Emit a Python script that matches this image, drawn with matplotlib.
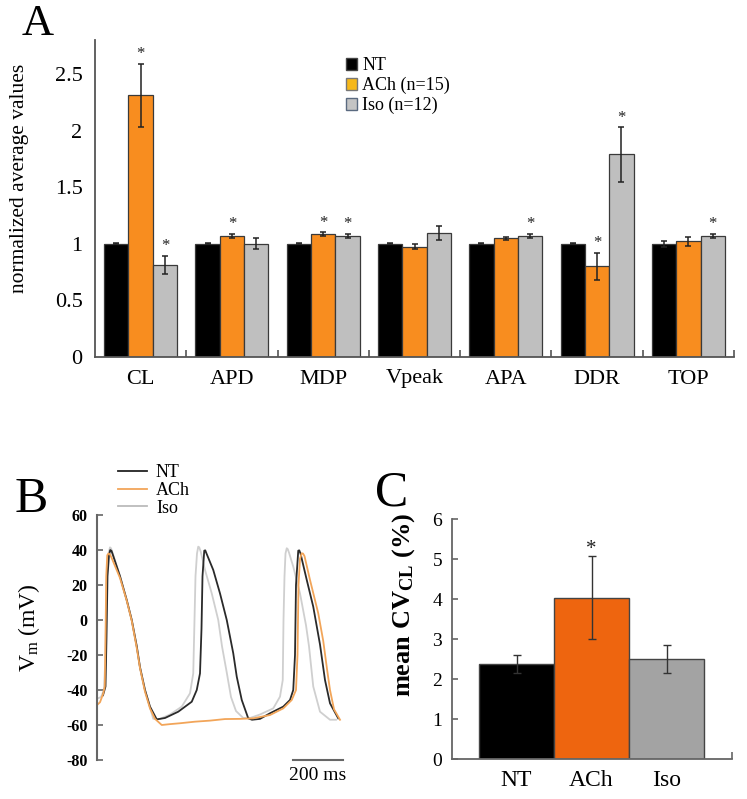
import numpy as np
import matplotlib
matplotlib.use("Agg")
import matplotlib.pyplot as plt
from matplotlib.patches import Patch
from matplotlib.lines import Line2D

plt.rcParams['font.family'] = ['Liberation Serif', 'DejaVu Serif']
plt.rcParams['mathtext.fontset'] = 'stix'
plt.rcParams['mathtext.default'] = 'regular'
plt.rcParams['axes.unicode_minus'] = False

# ---- panel A data: normalized averages ----
categories = ['CL', 'APD', 'MDP', 'Vpeak', 'APA', 'DDR', 'TOP']
nt_mean = [1.0, 1.0, 1.0, 1.0, 1.0, 1.0, 1.0]
nt_err = [0.005, 0.005, 0.003, 0.003, 0.005, 0.005, 0.025]
ach_mean = [2.31, 1.07, 1.085, 0.975, 1.047, 0.80, 1.024]
ach_err = [0.28, 0.02, 0.015, 0.025, 0.015, 0.12, 0.04]
iso_mean = [0.815, 1.0, 1.07, 1.095, 1.07, 1.79, 1.07]
iso_err = [0.08, 0.05, 0.02, 0.06, 0.02, 0.24, 0.02]
ach_sig = [1, 1, 1, 0, 0, 1, 0]
iso_sig = [1, 0, 1, 0, 1, 1, 1]

# ---- panel B data: action potential traces (time ms, Vm mV) ----
nt_t = [24, 34, 38, 42, 48, 53, 58, 64, 92, 119, 139, 159, 172, 192, 212, 239, 272, 325, 379,
        399, 412, 418, 422, 429, 433, 438, 465, 492, 519, 545, 559, 579, 605, 620, 652, 692,
        745, 772, 785, 792, 796, 805, 809, 814, 839, 865, 892, 912, 932, 965]
nt_v = [-43, -38, -10, 25, 37, 40, 39.5, 37, 25, 11.4, 0, -15, -27, -40, -49.5, -56.8, -56, -52.4, -46.7,
        -40, -30.5, -5, 25, 39.6, 39.8, 38, 28.6, 15.2, 0, -19, -32.4, -45.7, -56.2, -57, -56.5, -53.3,
        -49.5, -45.7, -40, -20, 20, 39.6, 39.8, 38, 22.9, 7.6, -14, -34.3, -47.6, -56.2]

ach_t = [0, 12, 25, 31, 34, 37, 41, 46, 52, 60, 92, 119, 139, 159, 172, 192, 212, 232, 259, 292,
         332, 392, 452, 512, 572, 625, 692, 745, 779, 796, 802, 806, 812, 819, 824, 830, 852, 885,
         905, 920, 932, 948, 972]
ach_v = [-48.6, -47, -42, -38, -10, 25, 37, 38, 37.5, 35, 24, 11, -0.5, -16, -27.5, -41, -50.5, -56.5, -60, -59.5,
         -59, -58.1, -57.5, -56.6, -56.5, -56.2, -54.3, -50.5, -45.7, -40, -20, 20, 35, 38.1, 38, 36.5, 22.9, 3.8,
         -12, -28, -40, -51, -57]

iso_t = [0, 16, 28, 34, 38, 44, 52, 56, 62, 92, 119, 139, 159, 172, 192, 212, 225, 252, 292, 339,
         372, 385, 390, 394, 400, 405, 409, 415, 432, 459, 485, 500, 519, 536, 556, 585, 612, 652,
         705, 732, 743, 746, 750, 754, 759, 763, 768, 785, 812, 836, 848, 865, 892, 932, 956]
iso_v = [-45, -44, -40, -20, 20, 37, 41.5, 41, 38.5, 25, 11, 0, -15, -27, -40, -50, -56.5, -56.5, -54, -49.5,
         -41.9, -30.5, 0, 25, 38, 41.9, 41.5, 39, 28.6, 15.2, 0, -15, -30, -44, -52, -56, -56, -54,
         -50.5, -43.8, -34.3, 0, 25, 38, 41, 40.5, 38.5, 30.5, 15.2, -3, -15, -38, -52.4, -57, -57]

# ---- panel C data: mean CV of cycle length ----
cv_groups = ['NT', 'ACh', 'Iso']
cv_mean = [2.37, 4.03, 2.51]
cv_err = [0.22, 1.04, 0.35]
cv_sig = [0, 1, 0]

W, H = 747, 799
fig = plt.figure(figsize=(W / 100, H / 100), dpi=100)


def px_axes(left, top, right, bottom):
    return fig.add_axes([left / W, 1 - bottom / H, (right - left) / W, (bottom - top) / H])


spine_col = '#555555'

# ================= Panel A =================
axA = px_axes(95, 40, 734, 357)
x = np.arange(len(categories)) + 0.5
w = 0.267
series = [(nt_mean, nt_err, '#000000', None),
          (ach_mean, ach_err, '#F88D1F', ach_sig),
          (iso_mean, iso_err, '#BFBFBF', iso_sig)]
for i, (m, e, c, sig) in enumerate(series):
    xs = x + (i - 1) * w
    axA.bar(xs, m, width=w, color=c, edgecolor='#3a3a3a', linewidth=0.9, zorder=2)
    axA.errorbar(xs, m, yerr=e, fmt='none', ecolor='#222222', elinewidth=1.1,
                 capsize=2.5, capthick=1.1, zorder=3)
    if sig is not None:
        for xi, mi, ei, s in zip(xs, m, e, sig):
            if s:
                axA.annotate('*', (xi, mi + ei), xytext=(0, 1), textcoords='offset points',
                             ha='center', va='bottom', fontsize=12, color='#222222')

axA.set_xlim(0, 7)
axA.set_ylim(0, 2.8)
axA.set_yticks([0, 0.5, 1, 1.5, 2, 2.5])
axA.set_yticklabels(['0', '0.5', '1', '1.5', '2', '2.5'])
axA.set_xticks(x)
axA.set_xticklabels(categories)
axA.set_xticks(np.arange(1, 8), minor=True)
axA.tick_params(axis='x', which='major', length=0, pad=9, labelsize=16)
axA.tick_params(axis='x', which='minor', direction='in', length=5, color=spine_col, width=1.2)
axA.tick_params(axis='y', length=0, pad=9, labelsize=16)
axA.set_ylabel('normalized average values', fontsize=15.5)
axA.yaxis.set_label_coords(-0.104, 0.565)
for s in ['top', 'right']:
    axA.spines[s].set_visible(False)
for s in ['left', 'bottom']:
    axA.spines[s].set_color(spine_col)
    axA.spines[s].set_linewidth(1.3)

legA = [Patch(facecolor='#000000', edgecolor='#444444', label='NT'),
        Patch(facecolor='#F6B81A', edgecolor='#777777', label='ACh (n=15)'),
        Patch(facecolor='#C4C4C4', edgecolor='#5a6a80', label='Iso (n=12)')]
axA.legend(handles=legA, loc='upper left', bbox_to_anchor=((339 - 95) / 639, (357 - 50) / 317),
           frameon=False, fontsize=13, handlelength=0.6, handleheight=0.6,
           handletextpad=0.3, labelspacing=0.15, borderaxespad=0)

fig.text(22 / W, 1 - 35 / H, 'A', fontsize=32, ha='left', va='baseline')

# ================= Panel B =================
axB = px_axes(97, 515, 345, 760)
axB.plot(iso_t, iso_v, color='#CFCFCF', lw=1.3)
axB.plot(nt_t, nt_v, color='#2a2a2a', lw=1.3)
axB.plot(ach_t, ach_v, color='#F2A559', lw=1.3)
axB.set_xlim(0, 992)
axB.set_ylim(-80, 60)
axB.set_yticks(np.arange(-80, 61, 20))
axB.tick_params(axis='y', direction='in', length=4, color='#666666', width=1.2,
                pad=7, labelsize=11.5)
for lab in axB.get_yticklabels():
    lab.set_fontweight('bold')
axB.set_xticks([])
for s in ['top', 'right', 'bottom']:
    axB.spines[s].set_visible(False)
axB.spines['left'].set_color('#666666')
axB.spines['left'].set_linewidth(1.5)
axB.set_ylabel('V$_m$ (mV)', fontsize=17)
axB.yaxis.set_label_coords(-0.222, 0.54)

# 200 ms scale bar
axB.plot([783, 983], [-80, -80], color='#666666', lw=1.5, clip_on=False)
axB.text(883, -84, '200 ms', ha='center', va='top', fontsize=14)

legB = [Line2D([], [], color='#222222', lw=1.3, label='NT'),
        Line2D([], [], color='#F2A559', lw=1.3, label='ACh'),
        Line2D([], [], color='#BBBBBB', lw=1.3, label='Iso')]
fig.legend(handles=legB, loc='upper left', bbox_to_anchor=(118 / W, 1 - 464 / H),
           frameon=False, fontsize=13, handlelength=1.6, handletextpad=0.5,
           labelspacing=0.05, borderaxespad=0, borderpad=0)

fig.text(15 / W, 1 - 512 / H, 'B', fontsize=36, ha='left', va='baseline')

# ================= Panel C =================
axC = px_axes(452, 519, 732, 759)
xc = np.arange(len(cv_groups))
cv_cols = ['#000000', '#EE650F', '#A3A3A3']
axC.bar(xc, cv_mean, width=1.0, color=cv_cols, edgecolor='#444444', linewidth=1.0, zorder=2)
axC.errorbar(xc, cv_mean, yerr=cv_err, fmt='none', ecolor='#333333', elinewidth=1.0,
             capsize=3, capthick=1.0, zorder=3)
for xi, mi, ei, s in zip(xc, cv_mean, cv_err, cv_sig):
    if s:
        axC.annotate('*', (xi, mi + ei), xytext=(0, -2), textcoords='offset points',
                     ha='center', va='bottom', fontsize=15, color='#222222')
axC.set_xlim(-0.86, 2.873)
axC.set_ylim(0, 6)
axC.set_yticks(range(0, 7))
axC.set_xticks(xc)
axC.set_xticklabels(cv_groups)
axC.set_xticks([2.873], minor=True)
axC.tick_params(axis='x', which='major', length=0, pad=8, labelsize=17)
axC.tick_params(axis='x', which='minor', direction='in', length=5, color='#666666', width=1.2)
axC.tick_params(axis='y', direction='in', length=4, color='#666666', width=1.2,
                pad=7, labelsize=14)
for s in ['top', 'right']:
    axC.spines[s].set_visible(False)
for s in ['left', 'bottom']:
    axC.spines[s].set_color('#666666')
    axC.spines[s].set_linewidth(1.3)
axC.set_ylabel('mean CV$_{CL}$ (%)', fontsize=19, fontweight='bold')
axC.yaxis.set_label_coords(-0.125, 0.64)

fig.text(375 / W, 1 - 505 / H, 'C', fontsize=36, ha='left', va='baseline')

fig.savefig('out.png', dpi=100)
